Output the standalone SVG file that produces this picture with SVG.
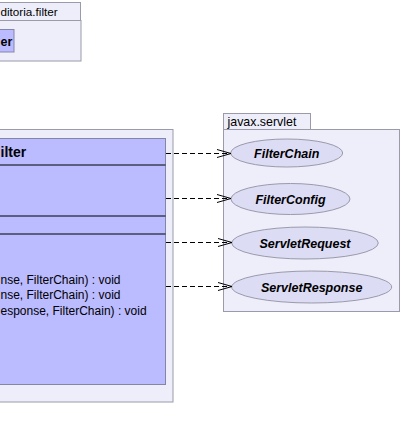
<svg xmlns="http://www.w3.org/2000/svg" width="402" height="431" viewBox="0 0 402 431">
  <style>
    .pkg { fill: #EEEEFA; stroke: #9A9AAA; stroke-width: 1; }
    .cls { fill: #BBBBFF; stroke: #8585A5; stroke-width: 1; }
    .sep { stroke: #000; stroke-width: 1; }
    .ifc { fill: #DCDCF5; stroke: #9A9AAA; stroke-width: 1; }
    .lbl { font-family: "Liberation Sans", Arial, sans-serif; font-size: 12.4px; fill: #000; }
    .title { font-family: "Liberation Sans", Arial, sans-serif; font-size: 14px; font-weight: bold; fill: #000; }
    .op { font-family: "Liberation Sans", Arial, sans-serif; font-size: 12px; fill: #000; }
    .iname { font-family: "Liberation Sans", Arial, sans-serif; font-size: 12.5px; font-weight: bold; font-style: italic; fill: #000; }
    .dep { fill: none; stroke: #000; stroke-width: 1; stroke-dasharray: 5,3; }
    .head { fill: none; stroke: #000; stroke-width: 1; }
  </style>

  <!-- package: ...editoria.filter (top) -->
  <g id="pkg-editoria-filter">
    <rect class="pkg" x="-20" y="2.5" width="100.5" height="18"/>
    <rect class="pkg" x="-20" y="20.5" width="101" height="40.5"/>
    <text class="lbl" x="0.5" y="16" style="font-size:11.7px">ditoria.filter</text>
  </g>
  <g id="cls-filter-small">
    <rect class="cls" x="-20" y="29.5" width="34" height="22.5"/>
    <text class="title" x="0.5" y="46" style="font-size:12.5px">er</text>
  </g>

  <!-- package holding the filter class -->
  <g id="pkg-main">
    <rect class="pkg" x="-20" y="129.5" width="193" height="272.5"/>
  </g>
  <g id="cls-filter">
    <rect class="cls" x="-20" y="138.5" width="185.5" height="246"/>
    <text class="title" x="0.5" y="157">ilter</text>
    <line class="sep" x1="-20" y1="165" x2="165.5" y2="165"/>
    <line class="sep" x1="-20" y1="216" x2="165.5" y2="216"/>
    <line class="sep" x1="-20" y1="234" x2="165.5" y2="234"/>
    <text class="op" x="0.5" y="284">nse, FilterChain) : void</text>
    <text class="op" x="0.5" y="299">nse, FilterChain) : void</text>
    <text class="op" x="0.5" y="315">esponse, FilterChain) : void</text>
  </g>

  <!-- package: javax.servlet -->
  <g id="pkg-javax-servlet">
    <rect class="pkg" x="223.5" y="113.5" width="87" height="16"/>
    <rect class="pkg" x="223.5" y="129.5" width="176" height="182"/>
    <text class="lbl" x="227.5" y="126">javax.servlet</text>
  </g>
  <g id="ifc-filterchain">
    <ellipse class="ifc" cx="286.7" cy="153" rx="56" ry="14"/>
    <text class="iname" x="286.7" y="157.5" text-anchor="middle">FilterChain</text>
  </g>
  <g id="ifc-filterconfig">
    <ellipse class="ifc" cx="290.5" cy="199" rx="59.5" ry="15.5"/>
    <text class="iname" x="290.5" y="203.5" text-anchor="middle">FilterConfig</text>
  </g>
  <g id="ifc-servletrequest">
    <ellipse class="ifc" cx="305" cy="243" rx="73.3" ry="16"/>
    <text class="iname" x="305" y="247.5" text-anchor="middle">ServletRequest</text>
  </g>
  <g id="ifc-servletresponse">
    <ellipse class="ifc" cx="311.7" cy="287" rx="80" ry="16"/>
    <text class="iname" x="311.7" y="291.5" text-anchor="middle">ServletResponse</text>
  </g>

  <!-- dependencies -->
  <g id="connectors">
    <line class="dep" x1="166" y1="153.5" x2="230.5" y2="153.5"/>
    <polyline class="head" points="217,149.5 231,153.5 217,157.5"/>
    <line class="dep" x1="166" y1="198.5" x2="230.5" y2="198.5"/>
    <polyline class="head" points="217,194.5 231,198.5 217,202.5"/>
    <line class="dep" x1="166" y1="242.5" x2="231.5" y2="242.5"/>
    <polyline class="head" points="218,238.5 232,242.5 218,246.5"/>
    <line class="dep" x1="166" y1="286.5" x2="231.5" y2="286.5"/>
    <polyline class="head" points="218,282.5 232,286.5 218,290.5"/>
  </g>
</svg>
